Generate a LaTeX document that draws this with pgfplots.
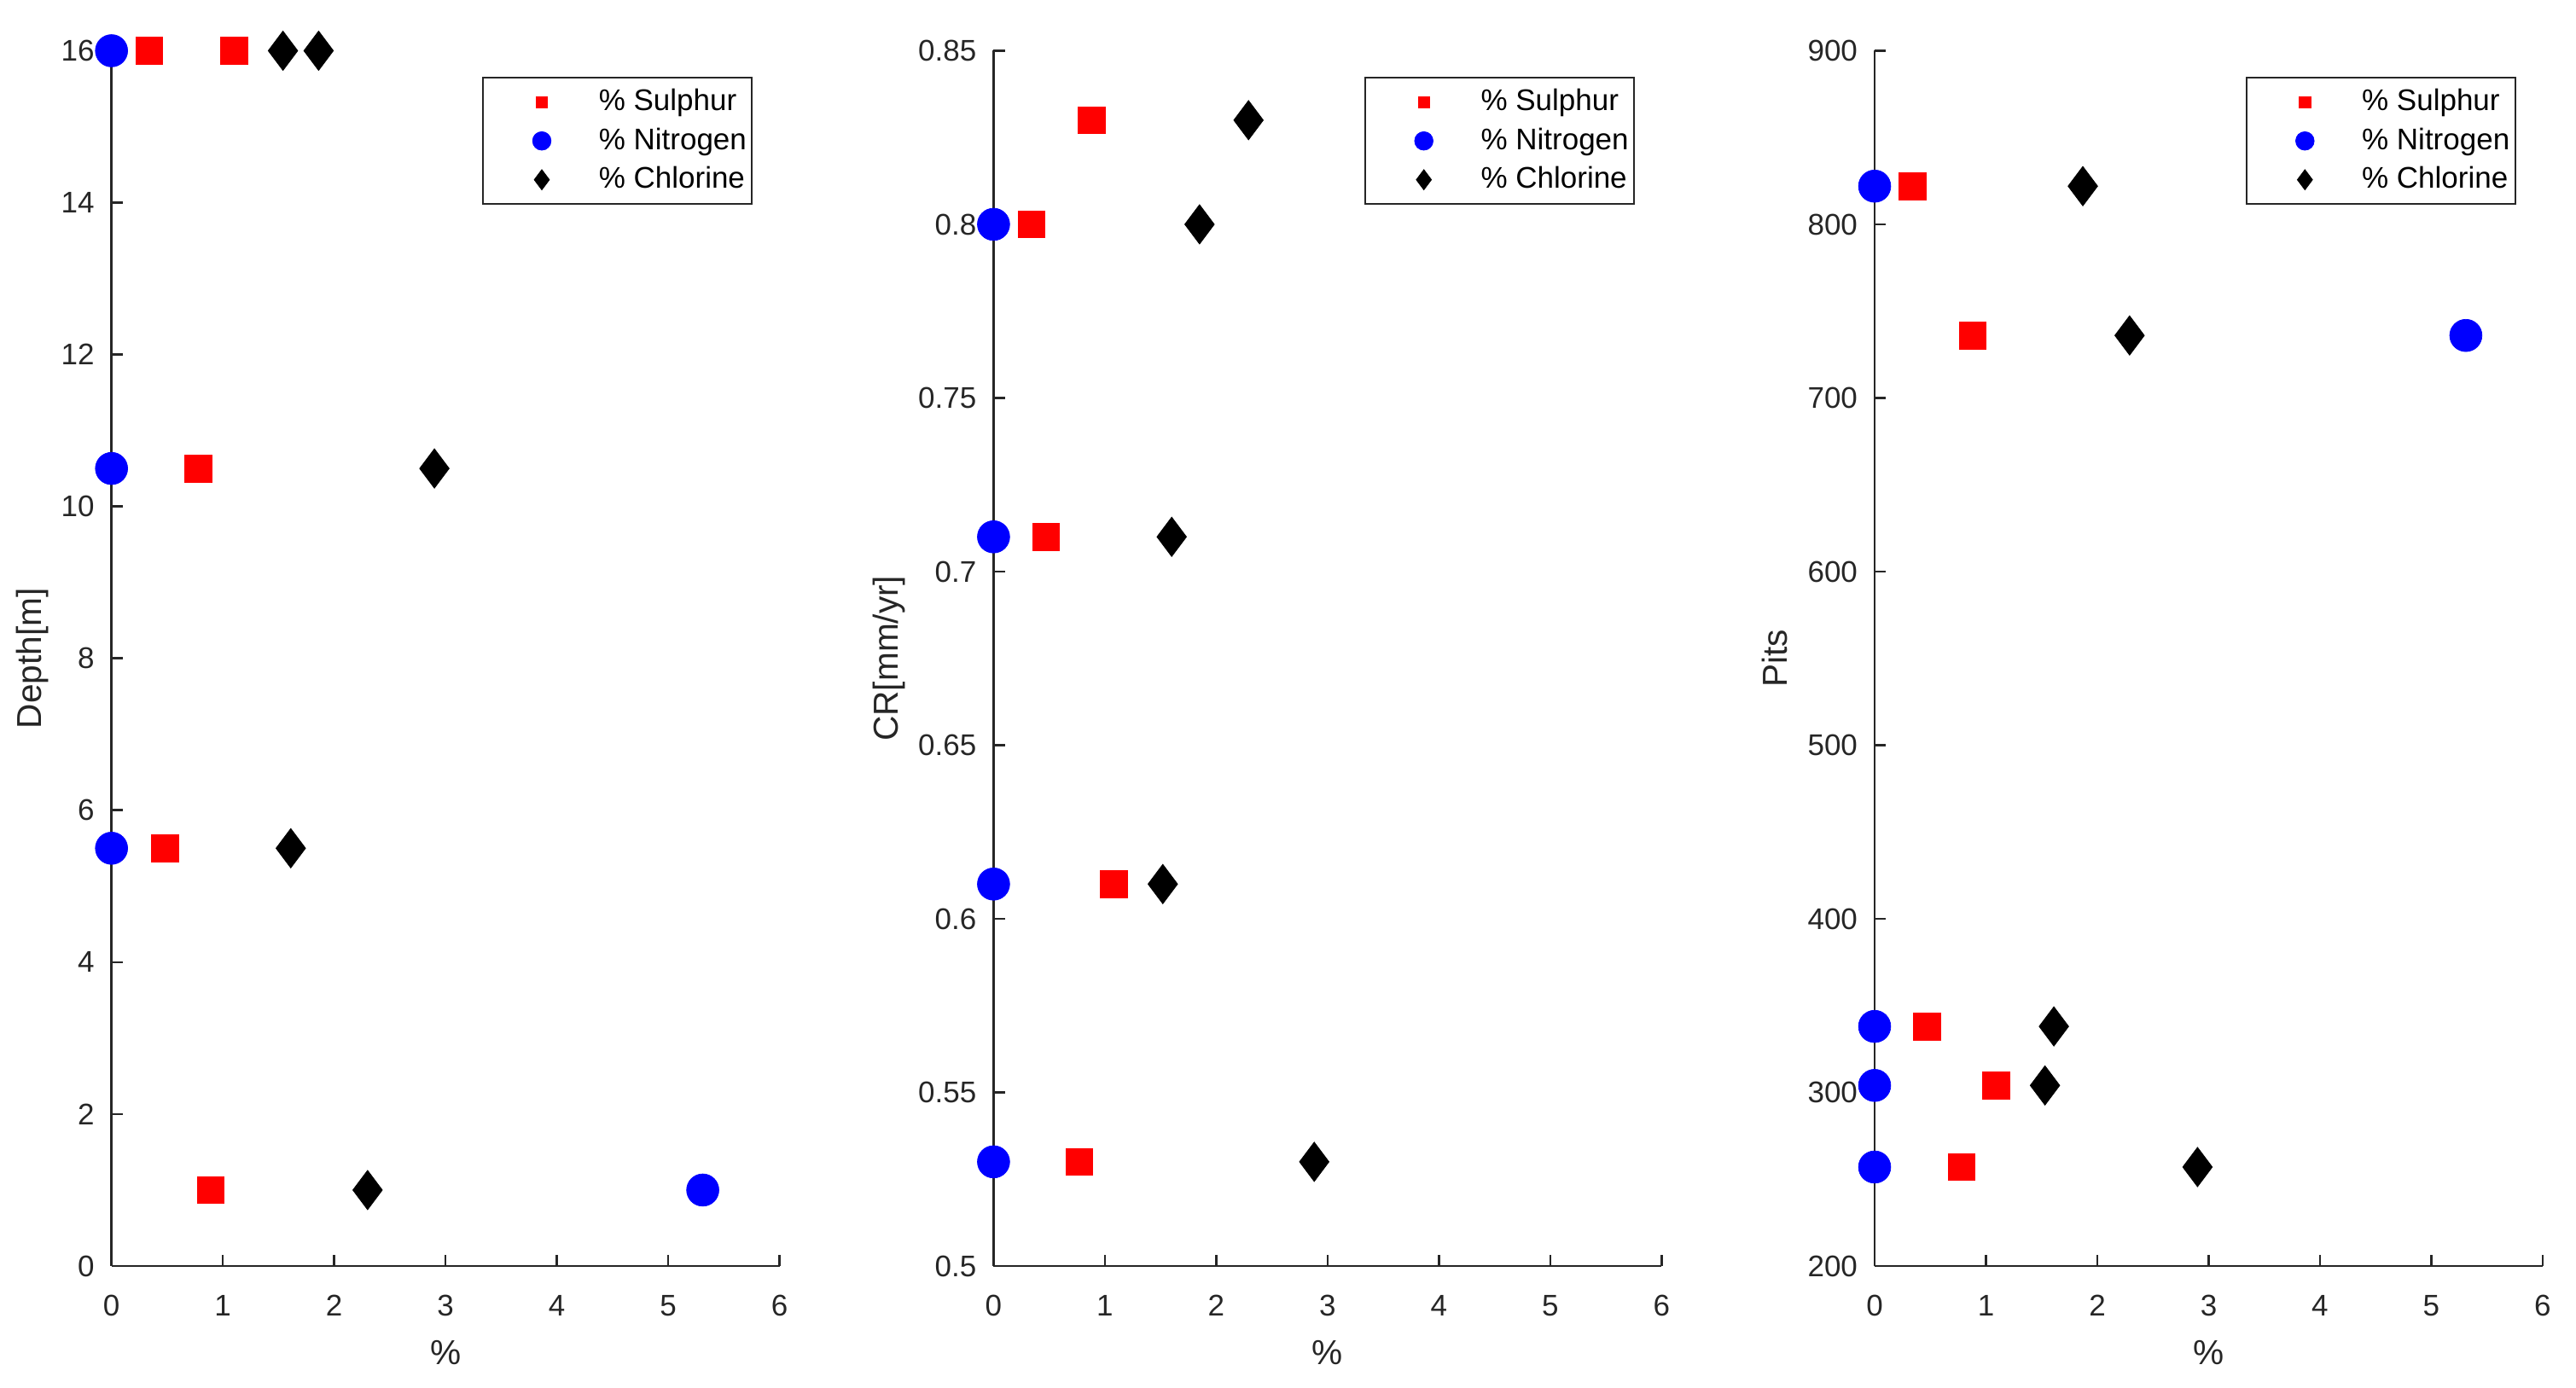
\documentclass[border=0pt]{standalone}
\usepackage{pgfplots}
\pgfplotsset{compat=1.18}
\usepackage{fontspec}
\setmainfont{Liberation Sans}
\definecolor{axgray}{HTML}{262626}
\definecolor{mred}{HTML}{FF0000}
\definecolor{mblue}{HTML}{0000FF}
\pgfplotsset{
  myax/.style={
    scale only axis, width=223.7pt, height=407pt,
    xmin=0, xmax=6, xtick={0,1,2,3,4,5,6},
    axis x line*=bottom, axis y line*=left,
    axis line style={axgray, line width=0.75pt, -},
    every tick/.style={axgray, line width=0.75pt},
    tick align=inside, major tick length=3.8pt,
    ticklabel style={font=\fontsize{10}{12}\selectfont, text=axgray},
    /pgf/number format/assume math mode=true,
    xticklabel style={anchor=center, yshift=-13.2pt},
    yticklabel style={anchor=east, xshift=-2.2pt},
    xlabel={\%},
    xlabel style={at={(axis description cs:0.5,-0.0713)}, anchor=center, font=\fontsize{11.6}{13}\selectfont, text=axgray},
    ylabel style={anchor=center, font=\fontsize{11.6}{13}\selectfont, text=axgray},
    clip=false,
    legend image code/.code={
      \path[draw=none, fill=none] (-17.8pt,-6.5pt) rectangle (19.1pt,6.5pt);
      \draw[#1, only marks] plot coordinates {(0pt,0pt)};
    },
    legend style={at={(0.96,0.9786)}, anchor=north east, draw=axgray, line width=0.6pt,
      inner xsep=1.8pt, inner ysep=1.7pt, row sep=0pt,
      font=\fontsize{10}{12}\selectfont, text=black,
      cells={anchor=west}, nodes={inner sep=0pt}},
  },
  sul/.style={only marks, mark=square*, mark size=4.5pt, color=mred,
    mark options={fill=mred, draw=mred, line width=0.2pt},
    legend image post style={mark size=1.9pt}},
  nit/.style={only marks, mark=*, mark size=5.4pt, color=mblue,
    mark options={fill=mblue, draw=mblue, line width=0.2pt},
    legend image post style={mark size=3.1pt}},
  chl/.style={only marks, mark=diamond*, mark size=6.6pt, color=black,
    mark options={fill=black, draw=black, line width=0.2pt},
    legend image post style={mark size=3.4pt}},
}
\begin{document}
\begin{tikzpicture}
\useasboundingbox (-37.34pt,-40.86pt) rectangle (825.23pt,424.0pt);
% Panel 1: Depth
\begin{axis}[myax, at={(0pt,0pt)}, anchor=south west,
  ymin=0, ymax=16, ytick={0,2,4,6,8,10,12,14,16},
  ylabel={Depth[m]},
  ylabel style={at={(axis description cs:-0.1185,0.5)}}]
\addplot[sul] coordinates {(0.34,16) (1.10,16) (0.78,10.5) (0.48,5.5) (0.89,1)};
\addlegendentry{\% Sulphur}
\addplot[nit] coordinates {(0,16) (0,10.5) (0,5.5) (5.31,1)};
\addlegendentry{\% Nitrogen}
\addplot[chl] coordinates {(1.54,16) (1.86,16) (2.90,10.5) (1.61,5.5) (2.30,1)};
\addlegendentry{\% Chlorine}
\end{axis}
% Panel 2: CR
\begin{axis}[myax, at={(295.35pt,0pt)}, anchor=south west,
  ymin=0.5, ymax=0.85, ytick={0.5,0.55,0.6,0.65,0.7,0.75,0.8,0.85},
  ylabel={CR[mm/yr]},
  ylabel style={at={(axis description cs:-0.1566,0.5)}}]
\addplot[sul] coordinates {(0.88,0.83) (0.34,0.80) (0.47,0.71) (1.08,0.61) (0.77,0.53)};
\addlegendentry{\% Sulphur}
\addplot[nit] coordinates {(0,0.80) (0,0.71) (0,0.61) (0,0.53)};
\addlegendentry{\% Nitrogen}
\addplot[chl] coordinates {(2.29,0.83) (1.85,0.80) (1.60,0.71) (1.52,0.61) (2.88,0.53)};
\addlegendentry{\% Chlorine}
\end{axis}
% Panel 3: Pits
\begin{axis}[myax, at={(590.37pt,0pt)}, anchor=south west,
  ymin=200, ymax=900, ytick={200,300,400,500,600,700,800,900},
  ylabel={Pits},
  ylabel style={at={(axis description cs:-0.149,0.5)}}]
\addplot[sul] coordinates {(0.34,822) (0.88,736) (0.47,338) (1.09,304) (0.78,257)};
\addlegendentry{\% Sulphur}
\addplot[nit] coordinates {(0,822) (5.31,736) (0,338) (0,304) (0,257)};
\addlegendentry{\% Nitrogen}
\addplot[chl] coordinates {(1.87,822) (2.29,736) (1.61,338) (1.53,304) (2.90,257)};
\addlegendentry{\% Chlorine}
\end{axis}
\end{tikzpicture}
\end{document}
